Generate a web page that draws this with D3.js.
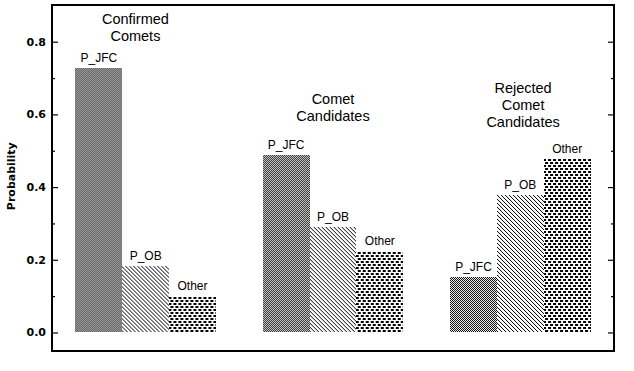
<!DOCTYPE html>
<html>
<head>
<meta charset="utf-8">
<script src="https://cdn.jsdelivr.net/npm/d3@7"></script>
<style>
body { margin: 0; background: white; }
</style>
</head>
<body>
<svg width="634" height="371"></svg>
<script>
var groups = ['Confirmed Comets', 'Comet Candidates', 'Rejected Comet Candidates'];
var titleLines = [['Confirmed', 'Comets'], ['Comet', 'Candidates'], ['Rejected', 'Comet', 'Candidates']];
var series = ['P_JFC', 'P_OB', 'Other'];
var pJFC = [0.728, 0.489, 0.152];
var pOB = [0.182, 0.290, 0.379];
var other = [0.099, 0.223, 0.476];
var yTicks = [0.0, 0.2, 0.4, 0.6, 0.8];
var yMinor = [0.1, 0.3, 0.5, 0.7];

var svg = d3.select('svg');
var pLeft = 52, pRight = 614, pTop = 5, pBottom = 351;

var defs = svg.append('defs');
// checker for P_JFC
var pa = defs.append('pattern').attr('id', 'pjfc').attr('patternUnits', 'userSpaceOnUse')
  .attr('width', 2).attr('height', 2);
pa.append('rect').attr('width', 2).attr('height', 2).attr('fill', 'white');
pa.append('rect').attr('x', 0).attr('y', 0).attr('width', 1).attr('height', 1).attr('fill', 'black');
pa.append('rect').attr('x', 1).attr('y', 1).attr('width', 1).attr('height', 1).attr('fill', 'black');
// diagonal for P_OB
var pb = defs.append('pattern').attr('id', 'pob').attr('patternUnits', 'userSpaceOnUse')
  .attr('width', 4).attr('height', 4);
pb.append('rect').attr('width', 4).attr('height', 4).attr('fill', 'white');
pb.append('path').attr('d', 'M-1,-1 L5,5 M-1,3 L1,5 M3,-1 L5,1')
  .attr('stroke', 'black').attr('stroke-width', 1);
// blobs for Other
var pc = defs.append('pattern').attr('id', 'poth').attr('patternUnits', 'userSpaceOnUse')
  .attr('width', 5).attr('height', 6);
pc.append('rect').attr('width', 5).attr('height', 6).attr('fill', 'white');
pc.append('rect').attr('x', 0).attr('y', 0).attr('width', 3).attr('height', 2).attr('fill', 'black');
pc.append('rect').attr('x', 3).attr('y', 3).attr('width', 2).attr('height', 2).attr('fill', 'black');
pc.append('rect').attr('x', 0).attr('y', 3).attr('width', 1).attr('height', 2).attr('fill', 'black');

var fills = { 'P_JFC': 'url(#pjfc)', 'P_OB': 'url(#pob)', 'Other': 'url(#poth)' };

var y = d3.scaleLinear().domain([-0.051, 0.901]).range([pBottom, pTop]);
var x0 = d3.scaleBand().domain(groups).range([pLeft, pRight]).paddingInner(0.25).paddingOuter(0.125);
var x1 = d3.scaleBand().domain(series).range([0, x0.bandwidth()]);

var data = groups.map(function (g, i) {
  return { group: g, lines: titleLines[i], vals: [
    { s: 'P_JFC', v: pJFC[i] }, { s: 'P_OB', v: pOB[i] }, { s: 'Other', v: other[i] }] };
});

var gg = svg.selectAll('g.grp').data(data).enter().append('g')
  .attr('class', 'grp')
  .attr('transform', function (d) { return 'translate(' + x0(d.group) + ',0)'; });

gg.selectAll('rect').data(function (d) { return d.vals; }).enter().append('rect')
  .attr('x', function (d) { return x1(d.s); })
  .attr('width', x1.bandwidth())
  .attr('y', function (d) { return y(d.v); })
  .attr('height', function (d) { return y(0) - y(d.v); })
  .attr('fill', function (d) { return fills[d.s]; })
  .attr('shape-rendering', 'crispEdges');

gg.selectAll('text.lbl').data(function (d) { return d.vals; }).enter().append('text')
  .attr('class', 'lbl')
  .attr('x', function (d) { return x1(d.s) + x1.bandwidth() / 2; })
  .attr('y', function (d) { return y(d.v) - 6; })
  .attr('text-anchor', 'middle')
  .attr('font-family', 'Liberation Sans, Arial, sans-serif')
  .attr('font-size', 12)
  .text(function (d) { return d.s; });

// group titles
gg.each(function (d, i) {
  var g = d3.select(this);
  var cx = [60, x0.bandwidth() / 2, 73][i];
  var base = [24, 104, 93][i];
  d.lines.forEach(function (t, k) {
    g.append('text')
      .attr('x', cx)
      .attr('y', base + k * 17)
      .attr('text-anchor', 'middle')
      .attr('font-family', 'Liberation Sans, Arial, sans-serif')
      .attr('font-size', 14.5)
      .text(t);
  });
});

// frame
svg.append('rect').attr('x', pLeft).attr('y', pTop).attr('width', pRight - pLeft).attr('height', pBottom - pTop)
  .attr('fill', 'none').attr('stroke', 'black').attr('stroke-width', 1.3).attr('shape-rendering', 'crispEdges');

var yl = svg.append('g').attr('transform', 'translate(' + pLeft + ',0)')
  .call(d3.axisRight(y).tickValues(yTicks).tickSize(6).tickFormat(''));
yl.select('.domain').remove();
var ylm = svg.append('g').attr('transform', 'translate(' + pLeft + ',0)')
  .call(d3.axisRight(y).tickValues(yMinor).tickSize(3).tickFormat(''));
ylm.select('.domain').remove();
var yr = svg.append('g').attr('transform', 'translate(' + pRight + ',0)')
  .call(d3.axisLeft(y).tickValues(yTicks).tickSize(6).tickFormat(''));
yr.select('.domain').remove();
var yrm = svg.append('g').attr('transform', 'translate(' + pRight + ',0)')
  .call(d3.axisLeft(y).tickValues(yMinor).tickSize(3).tickFormat(''));
yrm.select('.domain').remove();

svg.selectAll('g.tick line').attr('stroke-width', 1.2);

svg.selectAll('text.ytl').data(yTicks).enter().append('text')
  .attr('class', 'ytl')
  .attr('x', pLeft - 6)
  .attr('y', function (d) { return y(d) + 4; })
  .attr('text-anchor', 'end')
  .attr('font-family', 'DejaVu Sans, Verdana, sans-serif')
  .attr('font-weight', 'bold')
  .attr('font-size', 11)
  .text(function (d) { return d3.format('.1f')(d); });

svg.append('text')
  .attr('transform', 'translate(15,' + y(0.43) + ') rotate(-90)')
  .attr('text-anchor', 'middle')
  .attr('font-family', 'DejaVu Sans, Verdana, sans-serif')
  .attr('font-weight', 'bold')
  .attr('font-size', 11)
  .text('Probability');
</script>
</body>
</html>
